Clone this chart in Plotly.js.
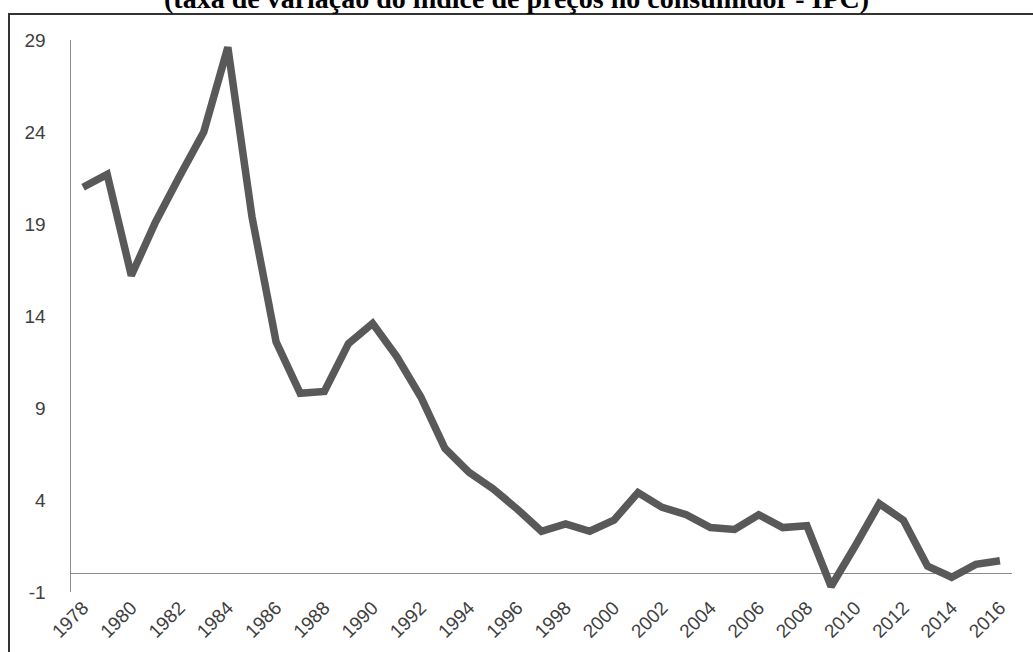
<!DOCTYPE html>
<html>
<head>
<meta charset="utf-8">
<script src="https://cdn.plot.ly/plotly-3.0.1.min.js"></script>
<style>
  html, body { margin: 0; padding: 0; background: #ffffff; }
  #chart { width: 1033px; height: 652px; }
</style>
</head>
<body>
<div id="chart"></div>
<script>
// Annual consumer price inflation (%), 1978-2016
const years = [
  1978, 1979, 1980, 1981, 1982, 1983, 1984, 1985, 1986, 1987,
  1988, 1989, 1990, 1991, 1992, 1993, 1994, 1995, 1996, 1997,
  1998, 1999, 2000, 2001, 2002, 2003, 2004, 2005, 2006, 2007,
  2008, 2009, 2010, 2011, 2012, 2013, 2014, 2015, 2016
];
const inflation = [
  21.0, 21.7, 16.2, 19.1, 21.6, 24.0, 28.6, 19.4, 12.6, 9.8,
  9.9, 12.5, 13.6, 11.8, 9.6, 6.8, 5.5, 4.6, 3.5, 2.3,
  2.7, 2.3, 2.9, 4.4, 3.6, 3.2, 2.5, 2.4, 3.2, 2.5,
  2.6, -0.7, 1.5, 3.8, 2.9, 0.4, -0.2, 0.5, 0.7
];
const xTickYears = [
  1978, 1980, 1982, 1984, 1986, 1988, 1990, 1992, 1994, 1996,
  1998, 2000, 2002, 2004, 2006, 2008, 2010, 2012, 2014, 2016
];
const yTicks = [-1, 4, 9, 14, 19, 24, 29];
const titleText = '(taxa de variação do índice de preços no consumidor - IPC)';

const W = 1033, H = 652;
const M = { l: 71, r: 21, t: 40, b: 60 };
const plotW = W - M.l - M.r;
const plotH = H - M.t - M.b;
// pixel -> paper helpers for the outer frame and heading
const px = (x) => (x - M.l) / plotW;
const py = (y) => (H - M.b - y) / plotH;

const tickFont = { family: '"Liberation Sans", Arial, sans-serif', size: 19, color: '#404040' };

const trace = {
  x: years,
  y: inflation,
  type: 'scatter',
  mode: 'lines',
  line: { color: '#595959', width: 7.5, shape: 'linear' },
  hoverinfo: 'x+y'
};

const layout = {
  width: W,
  height: H,
  margin: M,
  paper_bgcolor: '#ffffff',
  plot_bgcolor: '#ffffff',
  showlegend: false,
  xaxis: {
    range: [1977.5, 2016.5],
    tickmode: 'array',
    tickvals: xTickYears,
    ticktext: xTickYears.map(String),
    tickangle: -45,
    ticks: '',
    showgrid: false,
    zeroline: false,
    showline: false,
    tickfont: tickFont,
    automargin: false,
    fixedrange: true
  },
  yaxis: {
    range: [-1, 29],
    tickmode: 'array',
    tickvals: yTicks,
    ticktext: yTicks.map(String),
    ticks: '',
    showgrid: false,
    zeroline: true,
    zerolinecolor: '#8c8c8c',
    zerolinewidth: 1.5,
    showline: true,
    linecolor: '#8c8c8c',
    linewidth: 1.5,
    ticklabelstandoff: 20,
    tickfont: tickFont,
    automargin: false,
    fixedrange: true
  },
  shapes: [{
    type: 'rect',
    xref: 'paper', yref: 'paper',
    x0: px(9), x1: px(W + 20),
    y0: py(H + 20), y1: py(14),
    line: { color: '#333333', width: 2 },
    fillcolor: 'rgba(0,0,0,0)',
    layer: 'below'
  }],
  annotations: [{
    text: '<b>' + titleText + '</b>',
    xref: 'paper', yref: 'paper',
    x: px(W / 2), y: py(-2),
    xanchor: 'center', yanchor: 'middle',
    showarrow: false,
    font: { family: '"Liberation Serif", "Times New Roman", serif', size: 28, color: '#000000' }
  }]
};

Plotly.newPlot('chart', [trace], layout, { displayModeBar: false, staticPlot: true });
</script>
</body>
</html>
